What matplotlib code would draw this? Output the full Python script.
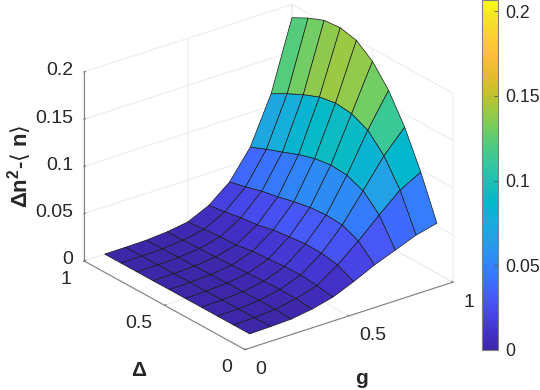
import numpy as np
import matplotlib
matplotlib.use('Agg')
from matplotlib import pyplot as plt
from matplotlib.colors import LinearSegmentedColormap, Normalize
from matplotlib.cm import ScalarMappable
from mpl_toolkits.mplot3d import proj3d

plt.rcParams['font.family'] = ['Liberation Sans', 'DejaVu Sans']
plt.rcParams['mathtext.fontset'] = 'custom'
plt.rcParams['mathtext.bf'] = 'Liberation Sans:bold'
plt.rcParams['mathtext.fallback'] = 'cm'

g = [0.1, 0.2, 0.3, 0.4, 0.5, 0.6, 0.7, 0.8, 0.9, 1.0]
delta = [0.1, 0.2, 0.3, 0.4, 0.5, 0.6, 0.7, 0.8, 0.9, 1.0]

# one row per g value, delta running from 0.1 up to 1
z_g01 = [.0001, .0001, .0001, .0001, .0001, .0001, .0, .0, .0, .0]
z_g02 = [.0006, .0007, .0007, .0006, .0005, .0004, .0003, .0002, .0001, .0001]
z_g03 = [.0015, .0023, .0025, .0023, .0019, .0015, .0012, .0009, .0007, .0005]
z_g04 = [.0049, .0066, .0068, .0062, .0053, .0044, .0037, .0032, .0027, .0022]
z_g05 = [.0104, .0132, .0151, .0145, .0132, .0120, .0092, .0086, .0070, .0056]
z_g06 = [.0197, .0279, .0309, .0313, .0296, .0273, .0235, .0215, .0184, .0158]
z_g07 = [.0302, .0461, .0537, .0548, .0535, .0501, .0459, .0425, .0377, .0335]
z_g08 = [.0388, .0665, .0828, .0899, .0914, .0888, .0836, .0769, .0704, .0634]
z_g09 = [.0475, .0857, .1126, .1304, .1386, .1404, .1374, .1305, .1221, .1127]
z_g10 = [.0530, .0976, .1358, .1655, .1868, .1996, .2036, .2020, .1950, .1860]

g_ticks = [0, 0.5, 1]
delta_ticks = [0, 0.5, 1]
z_ticks = [0, 0.05, 0.1, 0.15, 0.2]
g_labels = ['0', '0.5', '1']
delta_labels = ['0', '0.5', '1']
z_labels = ['0', '0.05', '0.1', '0.15', '0.2']

# parula, every few entries
parula = [(.2422, .1504, .6603), (.2647, .1978, .7952), (.2803, .2782, .9221),
          (.2760, .3667, .9829), (.2206, .4603, .9973), (.1764, .5499, .9520),
          (.1380, .6276, .8973), (.0952, .6798, .8598), (.0036, .7203, .7917),
          (.0964, .7500, .7120), (.1938, .7758, .6251), (.2906, .7973, .5188),
          (.4456, .8024, .3909), (.6174, .7876, .2612), (.7738, .7598, .1646),
          (.9035, .7330, .1774), (.9956, .7434, .2371), (.9892, .8136, .1885),
          (.9610, .8890, .1537), (.9769, .9839, .0805)]
cmap = LinearSegmentedColormap.from_list('parula', parula, N=256)
norm = Normalize(0, 0.2065)

Z = np.array([z_g01, z_g02, z_g03, z_g04, z_g05, z_g06, z_g07, z_g08, z_g09, z_g10])
G, D = np.meshgrid(g, delta, indexing='ij')

W, H = 540, 390
fig = plt.figure(figsize=(W / 100, H / 100), dpi=100)
L = 360
ax = fig.add_axes([83.6 / W, 28.1 / H, L / W, L / H], projection='3d', proj_type='ortho')
ax.view_init(elev=25, azim=-127.5)
ax.set_box_aspect((1, 1.009, 0.795), zoom=1.1511)
ax.patch.set_alpha(0)

ax.plot_surface(G, D, Z, facecolors=cmap(norm(Z)), shade=False, rstride=1, cstride=1,
                edgecolor='#1a1a1a', linewidth=0.5, antialiased=True)

ax.set_xlim(0, 1)
ax.set_ylim(0, 1)
ax.set_zlim(0, 0.2)
ax.set_xticks(g_ticks)
ax.set_yticks(delta_ticks)
ax.set_zticks(z_ticks)
# the 3d tick labels only move along one direction, so they are placed by hand below
ax.set_xticklabels([])
ax.set_yticklabels([])
ax.set_zticklabels([])

for axis in (ax.xaxis, ax.yaxis, ax.zaxis):
    axis.set_pane_color((1, 1, 1, 0))
    axis.pane.set_edgecolor((1, 1, 1, 0))
    axis.line.set_color('#808080')
    axis.line.set_linewidth(0.8)
    axis._axinfo['grid']['color'] = '#ebebeb'
    axis._axinfo['grid']['linewidth'] = 0.7
    axis._axinfo['tick']['inward_factor'] = 0.0
    axis._axinfo['tick']['outward_factor'] = 0.1
    axis._axinfo['tick']['color'] = '#808080'
ax.tick_params(color='#808080', width=0.7)


def label3d(x, y, z, s, ha):
    px, py, _ = proj3d.proj_transform(x, y, z, ax.get_proj())
    ax.text2D(px, py, s, transform=ax.transData, fontsize=14, color='#262626', ha=ha, va='center')


for v, s in zip(g_ticks, g_labels):
    label3d(v, -0.062, -0.0155, s, 'left')
for v, s in zip(delta_ticks, delta_labels):
    label3d(-0.06, v, -0.0149, s, 'right')
for v, s in zip(z_ticks, z_labels):
    label3d(-0.053, 1, v + 0.0048, s, 'right')

fig.text(139 / W, 1 - 371 / H, 'Δ', fontsize=15, fontweight='bold', color='#262626', ha='center', va='center')
fig.text(362 / W, 1 - 379 / H, 'g', fontsize=15, fontweight='bold', color='#262626', ha='center', va='center')
fig.text(20 / W, 1 - 166 / H, r'Δn$^{\mathbf{2}}$-$\langle$ n$\rangle$', fontsize=16, fontweight='bold',
         color='#262626', rotation=90, ha='center', va='center')

cax = fig.add_axes([482 / W, 40 / H, 16 / W, 350 / H])
cb = fig.colorbar(ScalarMappable(norm=norm, cmap=cmap), cax=cax)
cb.set_ticks(z_ticks)
cb.set_ticklabels(z_labels)
cb.ax.tick_params(labelsize=12.7, labelcolor='#262626', direction='in', length=3, width=0.6, color='#555555', pad=5)
cb.outline.set_edgecolor('#808080')
cb.outline.set_linewidth(0.8)

plt.savefig('out.png', dpi=100)
